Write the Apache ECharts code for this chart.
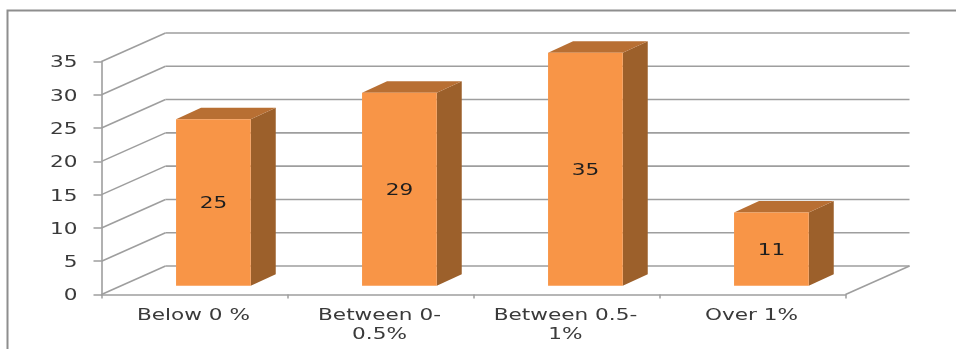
<!DOCTYPE html>
<html>
<head>
<meta charset="utf-8">
<style>
  html, body { margin: 0; padding: 0; background: #fff; }
  #chart { width: 956px; height: 349px; }
</style>
<script src="https://cdn.jsdelivr.net/npm/echarts@6/dist/echarts.min.js"></script>
</head>
<body>
<div id="chart"></div>
<script>
const categories = ['Below 0 %', 'Between 0-\n0.5%', 'Between 0.5-\n1%', 'Over 1%'];
const counts = [25, 29, 35, 11];
const tickValues = [0, 5, 10, 15, 20, 25, 30, 35];

// Oblique projection used for the pseudo-3D box
const WALL = { dx: 64, dy: -28.5 };    // front plane to back wall
const BAR_SHIFT = { dx: 18.9, dy: -8.7 }; // front plane to the bar's front face
const BAR_DEPTH = { dx: 25, dy: -11.5 };  // thickness of a bar
const BAR_WIDTH = 74.7;

const FRONT_COLOR = '#F89547';
const SIDE_COLOR = '#9C602B';
const TOP_COLOR = '#B86F33';
const LINE_COLOR = '#9E9E9E';
const TEXT_COLOR = '#3A3A3A';
const FONT = '"DejaVu Sans", sans-serif';
const STRETCH = 1.44;

const lineStyle = { stroke: LINE_COLOR, lineWidth: 1.6 };

function stretchedText(text, x, y, align, fill, size) {
  return {
    type: 'text', x, y, scaleX: STRETCH,
    style: { text, fill, font: size + 'px ' + FONT, align, verticalAlign: 'middle', lineHeight: 19 }
  };
}

// Back wall gridlines, side-wall diagonals and value labels, one per tick
function renderWall(params, api) {
  const v = api.value(0);
  const [x0, y] = api.coord([0, v]);
  const size = api.size([1, 0])[0];
  const xLeft = x0 - size / 2;
  const xRight = xLeft + size * categories.length;
  const bx = xLeft + WALL.dx, by = y + WALL.dy;
  const children = [
    { type: 'line', shape: { x1: xLeft, y1: y, x2: bx, y2: by }, style: lineStyle },
    { type: 'line', shape: { x1: bx, y1: by, x2: xRight + WALL.dx, y2: by }, style: lineStyle },
    stretchedText(String(v), xLeft - 24, y + 2, 'right', TEXT_COLOR, 15)
  ];
  if (v === 0) {
    children.push({ type: 'line', shape: { x1: xRight, y1: y, x2: xRight + WALL.dx, y2: by }, style: lineStyle });
  }
  return { type: 'group', children };
}

// One box: side and top faces behind the front face, value centred on the front
function renderBar(params, api) {
  const i = api.value(0), v = api.value(1);
  const [cx, yTop] = api.coord([i, v]);
  const yBase = api.coord([i, 0])[1];
  const l = cx + BAR_SHIFT.dx - BAR_WIDTH / 2;
  const r = l + BAR_WIDTH;
  const t = yTop + BAR_SHIFT.dy;
  const b = yBase + BAR_SHIFT.dy;
  const dx = BAR_DEPTH.dx, dy = BAR_DEPTH.dy;
  return {
    type: 'group',
    children: [
      { type: 'polygon', shape: { points: [[r, t], [r + dx, t + dy], [r + dx, b + dy], [r, b]] }, style: { fill: SIDE_COLOR } },
      { type: 'polygon', shape: { points: [[l, t], [l + dx, t + dy], [r + dx, t + dy], [r, t]] }, style: { fill: TOP_COLOR } },
      { type: 'rect', shape: { x: l, y: t, width: BAR_WIDTH, height: b - t }, style: { fill: FRONT_COLOR } },
      stretchedText(String(v), (l + r) / 2, (t + b) / 2 + 2, 'center', '#1E1E1E', 15)
    ]
  };
}

function renderCategoryLabel(params, api) {
  const i = api.value(0);
  const [cx, y] = api.coord([i, 0]);
  const name = categories[i];
  const lines = name.split('\n').length;
  return stretchedText(name, cx - 1, y + 21.5 + (lines - 1) * 9.5, 'center', TEXT_COLOR, 15);
}

const chart = echarts.init(document.getElementById('chart'));
chart.setOption({
  animation: false,
  backgroundColor: '#fff',
  grid: { left: 101.5, right: 110.5, top: 61.5, bottom: 54.5 },
  graphic: [{
    type: 'polyline',
    shape: { points: [[7.5, 349], [7.5, 10.5], [956, 10.5]] },
    style: { stroke: '#8E8E8E', lineWidth: 2, fill: 'none' }
  }],
  xAxis: {
    type: 'category',
    data: categories,
    axisLine: { lineStyle: { color: LINE_COLOR, width: 1.6 } },
    axisTick: { show: true, alignWithLabel: false, length: 4, lineStyle: { color: LINE_COLOR, width: 1.5 } },
    axisLabel: { show: false }
  },
  yAxis: {
    type: 'value',
    min: 0,
    max: 35,
    interval: 5,
    splitLine: { show: false },
    axisLine: { show: true, lineStyle: { color: LINE_COLOR, width: 1.6 } },
    axisTick: { show: true, length: 8, lineStyle: { color: LINE_COLOR, width: 1.5 } },
    axisLabel: { show: false }
  },
  series: [
    {
      type: 'custom', z: 1, clip: false, renderItem: renderWall,
      coordinateSystem: 'cartesian2d',
      data: tickValues.map(v => [v]),
      encode: { y: 0 }
    },
    {
      type: 'custom', z: 3, clip: false, renderItem: renderBar,
      data: counts.map((v, i) => [i, v]),
      encode: { x: 0, y: 1 }
    },
    {
      type: 'custom', z: 3, clip: false, renderItem: renderCategoryLabel,
      data: categories.map((c, i) => [i]),
      encode: { x: 0 }
    }
  ]
});
</script>
</body>
</html>
